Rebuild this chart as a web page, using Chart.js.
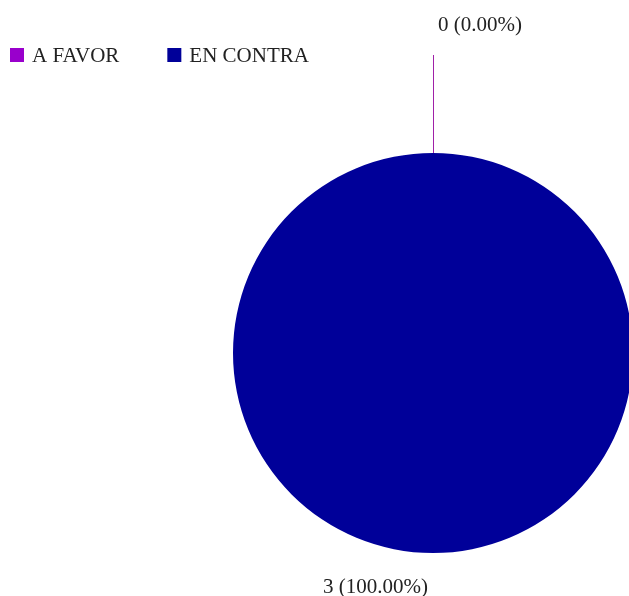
<!DOCTYPE html>
<html>
<head>
<meta charset="utf-8">
<script src="https://cdn.jsdelivr.net/npm/chart.js@4/dist/chart.umd.min.js"></script>
<style>
  html, body { margin: 0; padding: 0; background: #fff; overflow: hidden; }
  #wrap { width: 629px; height: 596px; overflow: hidden; }
  canvas { display: block; }
</style>
</head>
<body>
<div id="wrap"><canvas id="c" width="640" height="596"></canvas></div>
<script>
const categories = ["A FAVOR", "EN CONTRA"];
const values = [0, 3];
const colors = ["#9900cc", "#000099"];

const FONT = '21px "Liberation Serif", "Times New Roman", serif';

const labelPlugin = {
  id: 'labels',
  afterDraw(chart) {
    const ctx = chart.ctx;
    const meta = chart.getDatasetMeta(0);
    const total = values.reduce((a, b) => a + b, 0);
    ctx.save();
    ctx.font = FONT;
    ctx.fillStyle = '#222';
    // legend
    let lx = 10;
    categories.forEach((c, i) => {
      ctx.fillStyle = colors[i];
      ctx.fillRect(lx, 48, 14, 14);
      ctx.fillStyle = '#222';
      ctx.textAlign = 'left';
      ctx.textBaseline = 'alphabetic';
      ctx.fillText(c, lx + 22, 62);
      lx += 22 + ctx.measureText(c).width + 48;
    });
    // slice labels
    meta.data.forEach((arc, i) => {
      const p = arc.getProps(['x', 'y', 'startAngle', 'endAngle', 'outerRadius'], true);
      const mid = (p.startAngle + p.endAngle) / 2;
      const ax = p.x + Math.cos(mid) * p.outerRadius;
      const ay = p.y + Math.sin(mid) * p.outerRadius;
      const pct = (values[i] / total * 100).toFixed(2);
      const txt = values[i] + ' (' + pct + '%)';
      if (values[i] === 0) {
        const len = 98;
        const ex = ax + Math.cos(mid) * len;
        const ey = ay + Math.sin(mid) * len;
        ctx.strokeStyle = '#a020a8';
        ctx.lineWidth = 1;
        ctx.beginPath();
        ctx.moveTo(Math.round(ax) + 0.5, ay);
        ctx.lineTo(Math.round(ex) + 0.5, ey);
        ctx.stroke();
        ctx.fillStyle = '#222';
        ctx.textAlign = 'left';
        ctx.fillText(txt, ex + 5, ey - 24);
      } else {
        ctx.fillStyle = '#222';
        ctx.textAlign = 'right';
        ctx.fillText(txt, ax - 5, ay + 40);
      }
    });
    ctx.restore();
  }
};

new Chart(document.getElementById('c'), {
  type: 'pie',
  data: {
    labels: categories,
    datasets: [{
      data: values,
      backgroundColor: colors,
      borderWidth: 0
    }]
  },
  options: {
    responsive: false,
    animation: false,
    devicePixelRatio: 1,
    layout: { padding: { left: 233, right: 7, top: 153, bottom: 43 } },
    plugins: {
      legend: { display: false },
      tooltip: { enabled: false }
    }
  },
  plugins: [labelPlugin]
});
</script>
</body>
</html>
